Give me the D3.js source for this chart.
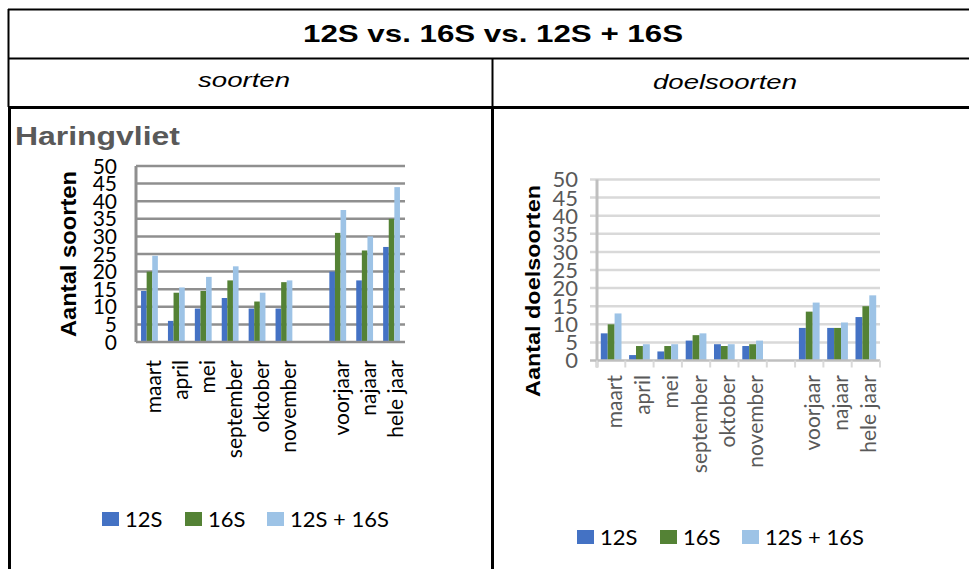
<!DOCTYPE html>
<html>
<head>
<meta charset="utf-8">
<script src="https://cdn.jsdelivr.net/npm/d3@7"></script>
<style>
  html, body { margin: 0; padding: 0; background: #fff; }
  svg { display: block; }
</style>
</head>
<body>
<svg id="chart" width="969" height="569"></svg>
<script>
// Category slots on the x axis; the empty slot separates months from seasons
const categories = ["maart", "april", "mei", "september", "oktober", "november", "", "voorjaar", "najaar", "hele jaar"];
const seriesNames = ["12S", "16S", "12S + 16S"];
const seriesColors = ["#4472C4", "#548235", "#9DC3E6"];
const yTicks = [0, 5, 10, 15, 20, 25, 30, 35, 40, 45, 50];

// Aantal soorten (Haringvliet)
const soorten12S = [14.5, 6, 9.5, 12.5, 9.5, 9.5, null, 20, 17.5, 27];
const soorten16S = [20, 14, 14.5, 17.5, 11.5, 17, null, 31, 26, 35];
const soortenBoth = [24.5, 15.5, 18.5, 21.5, 14, 17.5, null, 37.5, 30, 44];

// Aantal doelsoorten (Haringvliet)
const doel12S = [7.5, 1.5, 2.5, 5.5, 4.5, 4, null, 9, 9, 12];
const doel16S = [10, 4, 4, 7, 4, 4.5, null, 13.5, 9, 15];
const doelBoth = [13, 4.5, 4.5, 7.5, 4.5, 5.5, null, 16, 10.5, 18];

const svg = d3.select("#chart");
const LATO = "Lato, 'Open Sans', sans-serif";
const ARIAL = "'Liberation Sans', Arial, sans-serif";

// ---------- table frame ----------
const frame = svg.append("g").attr("stroke", "#000").attr("fill", "none");
frame.append("line").attr("x1", 8).attr("x2", 969).attr("y1", 9.5).attr("y2", 9.5).attr("stroke-width", 2);
frame.append("line").attr("x1", 8).attr("x2", 969).attr("y1", 58.5).attr("y2", 58.5).attr("stroke-width", 2);
frame.append("line").attr("x1", 8).attr("x2", 969).attr("y1", 107.5).attr("y2", 107.5).attr("stroke-width", 3);
frame.append("line").attr("x1", 8.5).attr("x2", 8.5).attr("y1", 9).attr("y2", 107).attr("stroke-width", 2);
frame.append("line").attr("x1", 9.5).attr("x2", 9.5).attr("y1", 107).attr("y2", 569).attr("stroke-width", 3);
frame.append("line").attr("x1", 492.5).attr("x2", 492.5).attr("y1", 58).attr("y2", 107).attr("stroke-width", 2);
frame.append("line").attr("x1", 492.5).attr("x2", 492.5).attr("y1", 107).attr("y2", 569).attr("stroke-width", 3);

svg.append("text").text("12S vs. 16S vs. 12S + 16S")
  .attr("x", 303).attr("y", 42)
  .attr("textLength", 380).attr("lengthAdjust", "spacingAndGlyphs")
  .attr("font-family", ARIAL).attr("font-weight", "bold").attr("font-size", 24).attr("fill", "#000");
svg.append("text").text("soorten")
  .attr("x", 198).attr("y", 87)
  .attr("textLength", 92).attr("lengthAdjust", "spacingAndGlyphs")
  .attr("font-family", ARIAL).attr("font-style", "italic").attr("font-size", 21).attr("fill", "#000");
svg.append("text").text("doelsoorten")
  .attr("x", 653).attr("y", 89)
  .attr("textLength", 144).attr("lengthAdjust", "spacingAndGlyphs")
  .attr("font-family", ARIAL).attr("font-style", "italic").attr("font-size", 21).attr("fill", "#000");

svg.append("text").text("Haringvliet")
  .attr("x", 15).attr("y", 145)
  .attr("textLength", 165).attr("lengthAdjust", "spacingAndGlyphs")
  .attr("font-family", ARIAL).attr("font-weight", "bold").attr("font-size", 25).attr("fill", "#595959");

// ---------- one clustered bar chart ----------
function drawChart(cfg) {
  const g = svg.append("g");
  const x = d3.scaleBand().domain(d3.range(categories.length)).range([cfg.left, cfg.right]);
  const y = d3.scaleLinear().domain([0, 50]).range([cfg.bottom, cfg.top]);
  const inner = d3.scaleBand().domain(d3.range(seriesNames.length))
    .range([0, x.bandwidth()]).paddingOuter(cfg.outerPad);

  // horizontal gridlines
  g.append("g").selectAll("line").data(yTicks.filter(t => t > 0)).join("line")
    .attr("x1", cfg.left - cfg.tickOut).attr("x2", cfg.right)
    .attr("y1", d => y(d)).attr("y2", d => y(d))
    .attr("stroke", cfg.gridColor).attr("stroke-width", 2.5);

  // bars
  cfg.series.forEach((vals, si) => {
    g.append("g").selectAll("rect")
      .data(vals.map((v, i) => ({ v, i })).filter(d => d.v != null))
      .join("rect")
      .attr("x", d => x(d.i) + inner(si))
      .attr("width", inner.bandwidth())
      .attr("y", d => y(d.v))
      .attr("height", d => y(0) - y(d.v))
      .attr("fill", seriesColors[si]);
  });

  // y axis line
  g.append("line").attr("x1", cfg.left).attr("x2", cfg.left)
    .attr("y1", y(50)).attr("y2", y(0) + cfg.xTick)
    .attr("stroke", cfg.axisColor).attr("stroke-width", 3);
  // x axis line
  g.append("line").attr("x1", cfg.left - cfg.tickOut).attr("x2", cfg.right)
    .attr("y1", y(0)).attr("y2", y(0))
    .attr("stroke", cfg.axisColor).attr("stroke-width", 2.5);
  // x ticks at category boundaries
  if (cfg.xTick > 0) {
    g.append("g").selectAll("line").data(d3.range(categories.length + 1)).join("line")
      .attr("x1", d => cfg.left + d * x.step()).attr("x2", d => cfg.left + d * x.step())
      .attr("y1", y(0)).attr("y2", y(0) + cfg.xTick)
      .attr("stroke", cfg.gridColor).attr("stroke-width", 2);
  }

  // y tick labels
  g.append("g").selectAll("text").data(yTicks).join("text")
    .text(d => d)
    .attr("x", cfg.yLabelX).attr("y", d => y(d))
    .attr("dy", "0.36em")
    .attr("text-anchor", "end")
    .attr("font-family", LATO).attr("font-size", cfg.tickFont)
    .attr("fill", cfg.tickColor);

  // x category labels, rotated
  g.append("g").selectAll("text").data(categories.map((c, i) => ({ c, i })).filter(d => d.c)).join("text")
    .text(d => d.c)
    .attr("transform", d => `translate(${x(d.i) + x.bandwidth() / 2 + cfg.xLabelShift},${cfg.xLabelY}) rotate(-90)`)
    .attr("dy", "0.36em")
    .attr("text-anchor", "end")
    .attr("font-family", LATO).attr("font-size", cfg.catFont)
    .attr("fill", cfg.tickColor);

  // y axis title
  g.append("text").text(cfg.yTitle)
    .attr("transform", `translate(${cfg.yTitleX},${cfg.yTitleY}) rotate(-90)`)
    .attr("dy", "0.36em")
    .attr("text-anchor", "middle")
    .attr("textLength", cfg.yTitleLen).attr("lengthAdjust", "spacingAndGlyphs")
    .attr("font-family", ARIAL).attr("font-weight", "bold").attr("font-size", cfg.yTitleFont)
    .attr("fill", "#000");

  // legend
  const lg = g.append("g");
  seriesNames.forEach((name, si) => {
    lg.append("rect")
      .attr("x", cfg.legendX[si]).attr("y", cfg.legendY - 7)
      .attr("width", 17).attr("height", 14)
      .attr("fill", seriesColors[si]);
    lg.append("text").text(name)
      .attr("x", cfg.legendX[si] + 23).attr("y", cfg.legendY)
      .attr("dy", "0.36em")
      .attr("font-family", LATO).attr("font-size", 22)
      .attr("fill", "#000");
  });
}

drawChart({
  left: 136, right: 405, top: 166, bottom: 342,
  outerPad: 0.9, tickOut: 0, xTick: 0,
  gridColor: "#8f8f8f", axisColor: "#8f8f8f",
  yLabelX: 117, tickFont: 21, tickColor: "#000",
  xLabelY: 360, xLabelShift: 4, catFont: 21,
  yTitle: "Aantal soorten", yTitleX: 68, yTitleY: 254, yTitleFont: 22, yTitleLen: 166,
  legendX: [102, 185, 267], legendY: 519,
  series: [soorten12S, soorten16S, soortenBoth]
});

drawChart({
  left: 597, right: 880, top: 179.5, bottom: 360.5,
  outerPad: 0.55, tickOut: 7, xTick: 7,
  gridColor: "#d9d9d9", axisColor: "#bfbfbf",
  yLabelX: 578, tickFont: 22, tickColor: "#595959",
  xLabelY: 375, xLabelShift: 3, catFont: 21,
  yTitle: "Aantal doelsoorten", yTitleX: 532, yTitleY: 291, yTitleFont: 21, yTitleLen: 212,
  legendX: [577, 660, 742], legendY: 537,
  series: [doel12S, doel16S, doelBoth]
});
</script>
</body>
</html>
